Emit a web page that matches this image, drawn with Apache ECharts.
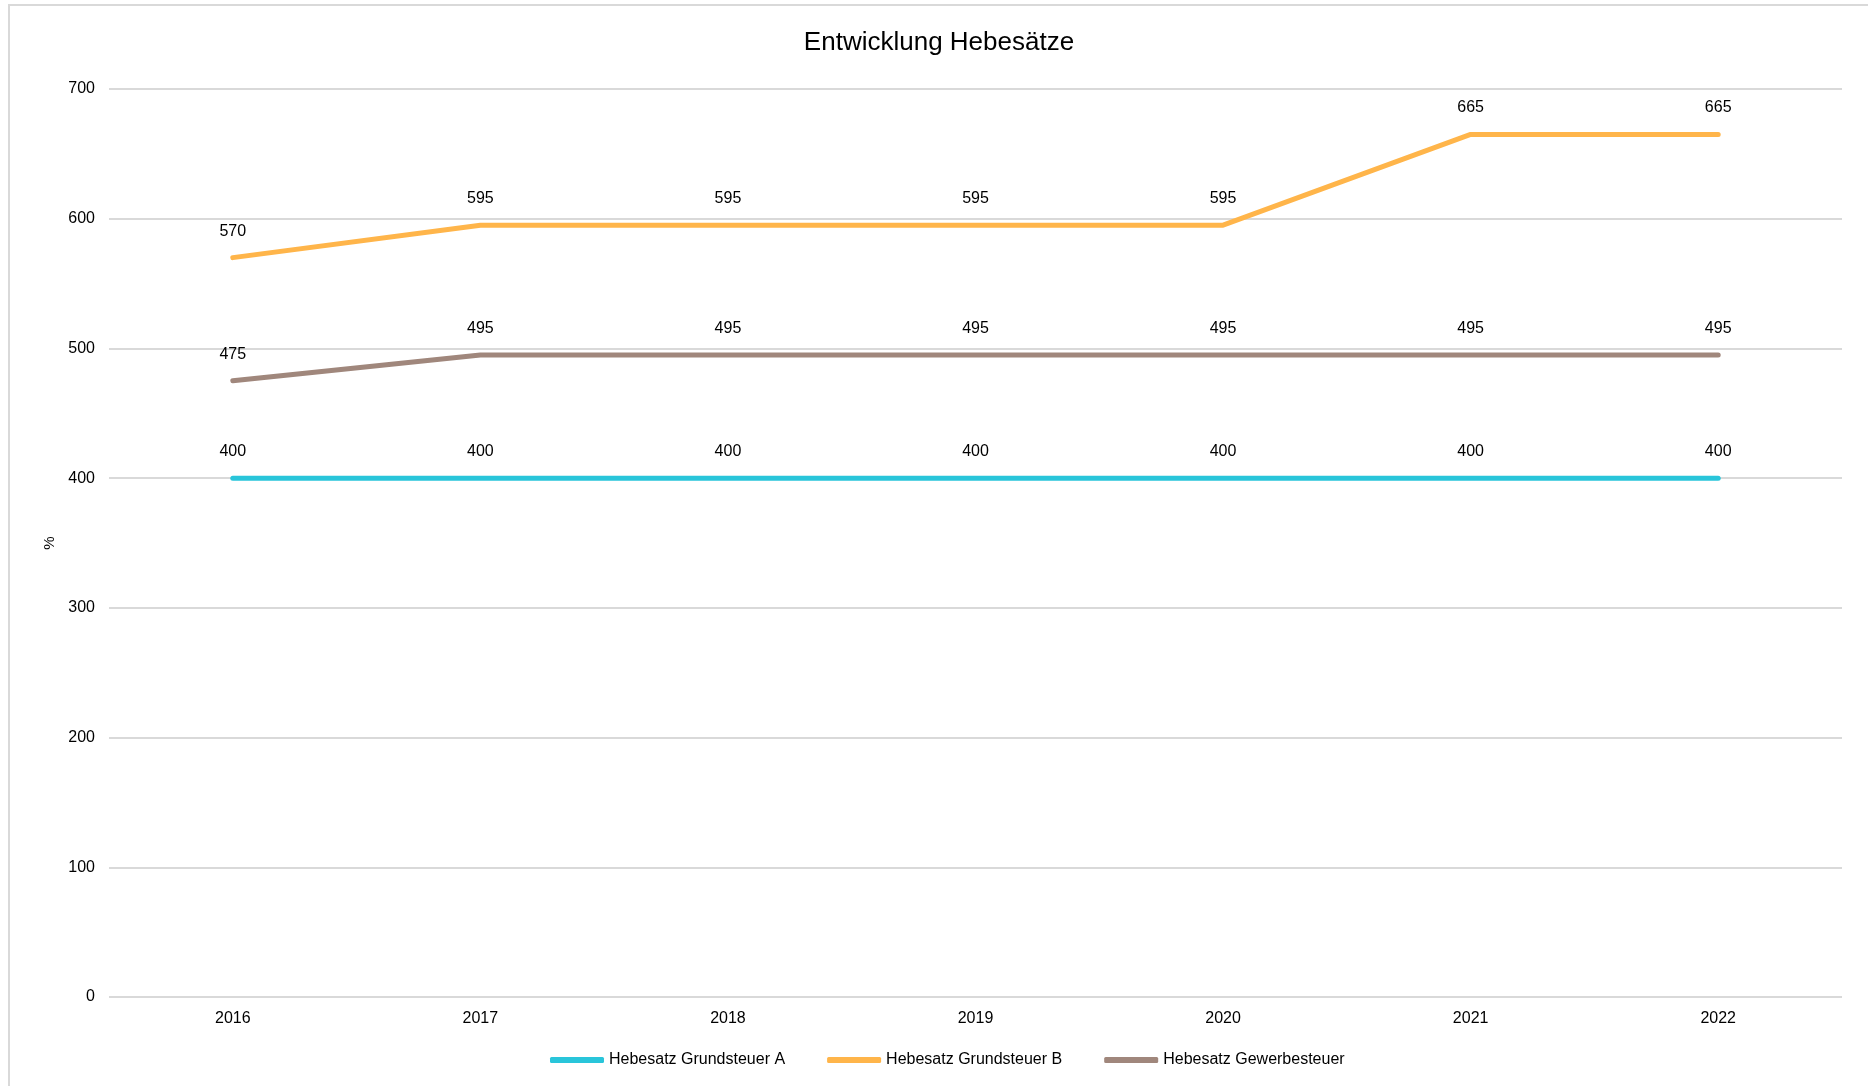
<!DOCTYPE html>
<html>
<head>
<meta charset="utf-8">
<script src="https://cdn.jsdelivr.net/npm/echarts@6/dist/echarts.min.js"></script>
<style>
html,body{margin:0;padding:0;background:#fff;}
#chart{width:1868px;height:1086px;}
</style>
</head>
<body>
<div id="chart"></div>
<script>
const categories = ['2016','2017','2018','2019','2020','2021','2022'];
const grundsteuerA = [400,400,400,400,400,400,400];
const grundsteuerB = [570,595,595,595,595,665,665];
const gewerbesteuer = [475,495,495,495,495,495,495];
const seriesNames = ['Hebesatz Grundsteuer A','Hebesatz Grundsteuer B','Hebesatz Gewerbesteuer'];
const colors = ['#29c5da','#ffb54a','#a0877c'];

const font = 'Liberation Sans, Arial, sans-serif';
const chart = echarts.init(document.getElementById('chart'));

function mk(name, data, color){
  return {
    name, type:'line', data, color,
    symbol:'circle', symbolSize:1, showSymbol:true,
    itemStyle:{color:'rgba(0,0,0,0)'},
    lineStyle:{width:5, color, cap:'round', join:'round'},
    label:{show:true, position:'top', distance:18, color:'#000', fontSize:16, fontFamily:font},
    emphasis:{disabled:true}, animation:false
  };
}

chart.setOption({
  animation:false,
  backgroundColor:'#fff',
  graphic:[{type:'rect', shape:{x:9,y:5,width:1880,height:1100}, style:{fill:'none', stroke:'#d9d9d9', lineWidth:2}, silent:true}],
  title:{text:'Entwicklung Hebesätze', left:934, top:25, textAlign:'center',
    textStyle:{fontFamily:font, fontSize:26, fontWeight:'normal', color:'#000'}},
  legend:{
    data:seriesNames.map((n,i)=>({name:n, itemStyle:{color:colors[i]}})),
    top:1047, left:545, itemWidth:54, itemHeight:6, itemGap:42,
    icon:'roundRect',
    textStyle:{fontFamily:font, fontSize:16, color:'#000'}
  },
  grid:{left:109, right:26, top:89, bottom:89, containLabel:false},
  xAxis:{type:'category', data:categories, boundaryGap:true,
    axisLine:{show:false}, axisTick:{show:false},
    axisLabel:{color:'#000', fontSize:16, fontFamily:font, margin:14}},
  yAxis:{type:'value', min:0, max:700, interval:100, name:'%', nameLocation:'middle', nameGap:50,
    nameRotate:90, nameTextStyle:{color:'#000', fontSize:15, fontFamily:font},
    axisLine:{show:false}, axisTick:{show:false},
    axisLabel:{color:'#000', fontSize:16, fontFamily:font, margin:14},
    splitLine:{lineStyle:{color:'#d9d9d9', width:2}}},
  series:[mk(seriesNames[0], grundsteuerA, colors[0]), mk(seriesNames[1], grundsteuerB, colors[1]), mk(seriesNames[2], gewerbesteuer, colors[2])]
});
</script>
</body>
</html>
